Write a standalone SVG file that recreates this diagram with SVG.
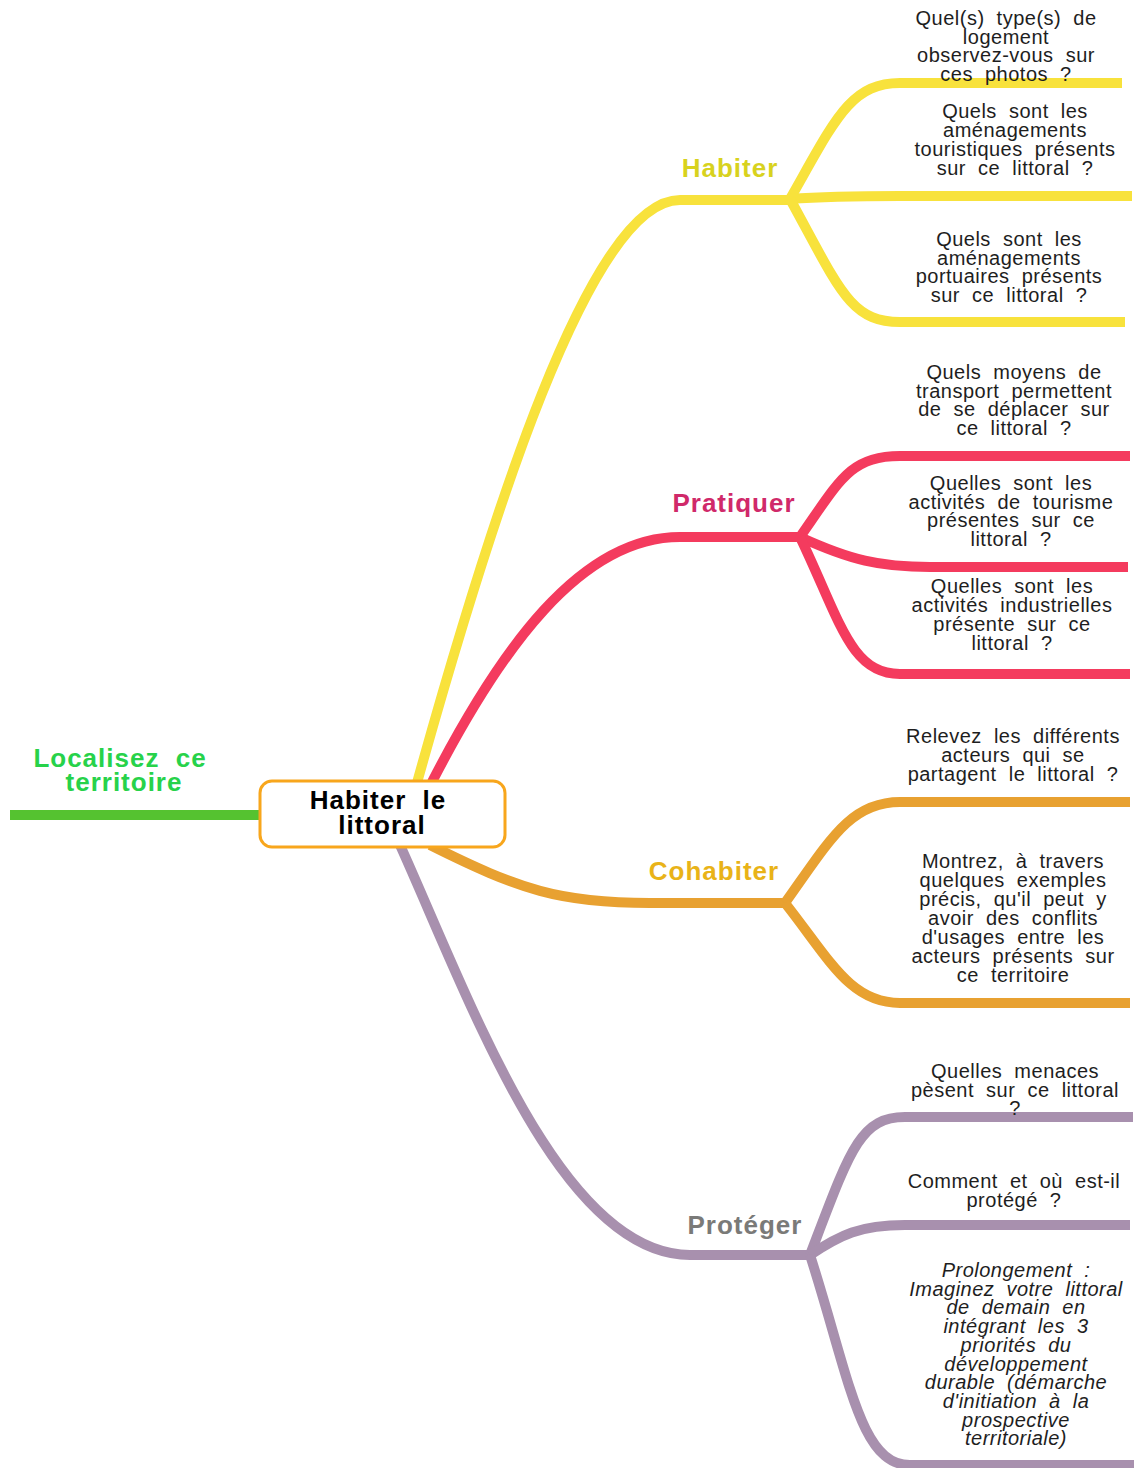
<svg xmlns="http://www.w3.org/2000/svg" width="1134" height="1468" viewBox="0 0 1134 1468">
<style>
.br{fill:none;stroke-width:10;stroke-linecap:butt;stroke-linejoin:round}
.y{stroke:#F8E23C}.r{stroke:#F43B5E}.o{stroke:#E8A131}.p{stroke:#A890AE}.g{stroke:#55C230}
.lab{font-family:"Liberation Sans",Arial,sans-serif;font-weight:bold;font-size:26px;letter-spacing:1px;word-spacing:8px;text-anchor:middle}
.leaf{font-family:"Liberation Sans",Arial,sans-serif;font-size:20px;letter-spacing:0.5px;word-spacing:6px;text-anchor:middle;fill:#1E1E1E}
</style>
<rect width="1134" height="1468" fill="#FFFFFF"/>
<g id="connectors">
  <path class="br g" d="M10,815 L262,815"/>
  <path class="br y" d="M415,790 C490,520 590,200 680,200 L790,200"/>
  <path class="br y" d="M790,199 C835,120 850,83 900,83 L1122,83"/>
  <path class="br y" d="M790,199 Q830,196 900,196 L1132,196"/>
  <path class="br y" d="M790,199 C840,290 850,322 900,322 L1125,322"/>
  <path class="br r" d="M432,782 C500,650 580,537 680,537 L800,537"/>
  <path class="br r" d="M800,537 C840,480 850,456 900,456 L1130,456"/>
  <path class="br r" d="M800,537 C850,560 880,567 930,567 L1128,567"/>
  <path class="br r" d="M800,537 C840,620 850,674 900,674 L1130,674"/>
  <path class="br o" d="M430,845 C520,890 560,903 650,903 L785,903"/>
  <path class="br o" d="M785,903 C830,840 850,802 900,802 L1130,802"/>
  <path class="br o" d="M785,903 C830,960 850,1003 900,1003 L1130,1003"/>
  <path class="br p" d="M400,845 C470,1000 560,1255 690,1255 L810,1255"/>
  <path class="br p" d="M810,1255 C850,1150 860,1117 905,1117 L1133,1117"/>
  <path class="br p" d="M810,1255 C840,1235 860,1225 905,1225 L1130,1225"/>
  <path class="br p" d="M810,1255 C850,1380 860,1465 910,1465 L1134,1465"/>
</g>
<g id="node-localisez">
  <text class="lab" fill="#27D24A"><tspan x="120" y="767">Localisez ce</tspan><tspan x="124" y="791">territoire</tspan></text>
</g>
<g id="node-center">
  <rect x="260" y="781" width="245" height="66" rx="12" fill="#FFFFFF" stroke="#F8A61C" stroke-width="3"/>
  <text class="lab" fill="#000000"><tspan x="378" y="809">Habiter le</tspan><tspan x="382" y="834">littoral</tspan></text>
</g>
<g id="node-habiter"><text class="lab" fill="#D8D21E" x="730" y="177">Habiter</text></g>
<g id="node-pratiquer"><text class="lab" fill="#D0296A" x="734" y="512">Pratiquer</text></g>
<g id="node-cohabiter"><text class="lab" fill="#E9B318" x="714" y="880">Cohabiter</text></g>
<g id="node-proteger"><text class="lab" fill="#7A7A78" x="745" y="1234">Protéger</text></g>
<g id="leaf-1"><text class="leaf"><tspan x="1006" y="25">Quel(s) type(s) de</tspan><tspan x="1006" y="44">logement</tspan><tspan x="1006" y="62">observez-vous sur</tspan><tspan x="1006" y="81">ces photos ?</tspan></text></g>
<g id="leaf-2"><text class="leaf"><tspan x="1015" y="118">Quels sont les</tspan><tspan x="1015" y="137">aménagements</tspan><tspan x="1015" y="156">touristiques présents</tspan><tspan x="1015" y="175">sur ce littoral ?</tspan></text></g>
<g id="leaf-3"><text class="leaf"><tspan x="1009" y="246">Quels sont les</tspan><tspan x="1009" y="265">aménagements</tspan><tspan x="1009" y="283">portuaires présents</tspan><tspan x="1009" y="302">sur ce littoral ?</tspan></text></g>
<g id="leaf-4"><text class="leaf"><tspan x="1014" y="379">Quels moyens de</tspan><tspan x="1014" y="398">transport permettent</tspan><tspan x="1014" y="416">de se déplacer sur</tspan><tspan x="1014" y="435">ce littoral ?</tspan></text></g>
<g id="leaf-5"><text class="leaf"><tspan x="1011" y="490">Quelles sont les</tspan><tspan x="1011" y="509">activités de tourisme</tspan><tspan x="1011" y="527">présentes sur ce</tspan><tspan x="1011" y="546">littoral ?</tspan></text></g>
<g id="leaf-6"><text class="leaf"><tspan x="1012" y="593">Quelles sont les</tspan><tspan x="1012" y="612">activités industrielles</tspan><tspan x="1012" y="631">présente sur ce</tspan><tspan x="1012" y="650">littoral ?</tspan></text></g>
<g id="leaf-7"><text class="leaf"><tspan x="1013" y="743">Relevez les différents</tspan><tspan x="1013" y="762">acteurs qui se</tspan><tspan x="1013" y="781">partagent le littoral ?</tspan></text></g>
<g id="leaf-8"><text class="leaf"><tspan x="1013" y="868">Montrez, à travers</tspan><tspan x="1013" y="887">quelques exemples</tspan><tspan x="1013" y="906">précis, qu'il peut y</tspan><tspan x="1013" y="925">avoir des conflits</tspan><tspan x="1013" y="944">d'usages entre les</tspan><tspan x="1013" y="963">acteurs présents sur</tspan><tspan x="1013" y="982">ce territoire</tspan></text></g>
<g id="leaf-9"><text class="leaf"><tspan x="1015" y="1078">Quelles menaces</tspan><tspan x="1015" y="1097">pèsent sur ce littoral</tspan><tspan x="1015" y="1115">?</tspan></text></g>
<g id="leaf-10"><text class="leaf"><tspan x="1014" y="1188">Comment et où est-il</tspan><tspan x="1014" y="1207">protégé ?</tspan></text></g>
<g id="leaf-11"><text class="leaf" font-style="italic"><tspan x="1016" y="1277">Prolongement :</tspan><tspan x="1016" y="1296">Imaginez votre littoral</tspan><tspan x="1016" y="1314">de demain en</tspan><tspan x="1016" y="1333">intégrant les 3</tspan><tspan x="1016" y="1352">priorités du</tspan><tspan x="1016" y="1371">développement</tspan><tspan x="1016" y="1389">durable (démarche</tspan><tspan x="1016" y="1408">d'initiation à la</tspan><tspan x="1016" y="1427">prospective</tspan><tspan x="1016" y="1445">territoriale)</tspan></text></g>
</svg>
